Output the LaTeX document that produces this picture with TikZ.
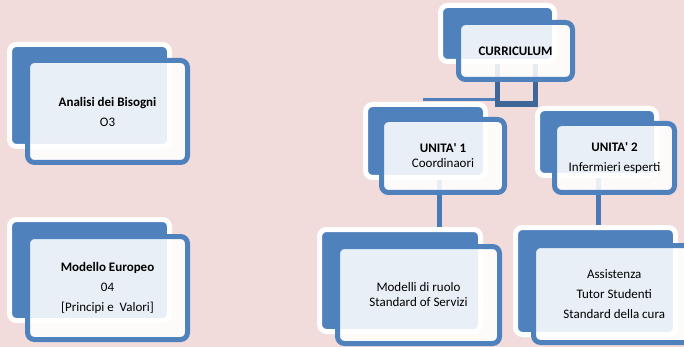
\documentclass[tikz,border=0pt]{standalone}
\usepackage{fontspec}
\setmainfont{Carlito}
\definecolor{bgpink}{HTML}{F2DCDB}
\definecolor{accblue}{HTML}{4F81BD}
\definecolor{linkblue}{HTML}{4A7AB6}
\definecolor{darkblue}{HTML}{3E6699}
\pgfdeclarelayer{bg}
\pgfsetlayers{bg,main}
\begin{document}
\begin{tikzpicture}[x=1pt,y=-1pt,
  backbox/.style={draw=white,line width=5pt,fill=accblue,rounded corners=7pt,
    inner sep=0pt,outer sep=0pt},
  frontbox/.style={draw=accblue,line width=5pt,fill=white,fill opacity=0.875,
    text opacity=1,rounded corners=7pt,inner sep=0pt,outer sep=0pt,align=center,
    font=\fontsize{13}{15}\selectfont},
  conn/.style={draw=linkblue,line width=5pt},
  darkconn/.style={draw=darkblue,line width=5.5pt,line join=miter},
  thinconn/.style={draw=accblue,line width=3pt}]
\useasboundingbox (0,0) rectangle (684,347);

% Analisi dei Bisogni
\node[backbox,minimum width=160pt,minimum height=102pt] (ab) at (89.5,95.5) {};
\node[frontbox,minimum width=160pt,minimum height=102pt] (af) at (107.5,111.5)
  {\textbf{Analisi dei Bisogni}\\[5pt]O3};

% Modello Europeo
\node[backbox,minimum width=160pt,minimum height=101pt] (mb) at (89.5,270) {};
\node[frontbox,minimum width=160pt,minimum height=103pt] (mf) at (107.5,288)
  {\textbf{Modello Europeo}\\[5pt]04\\[5pt][Principi e\ \ Valori]};

% CURRICULUM
\node[backbox,minimum width=114pt,minimum height=56pt] (cb) at (497.5,33.5) {};
\node[frontbox,minimum width=114pt,minimum height=57pt] (cf) at (515.5,51)
  {\textbf{CURRICULUM}};

% UNITA' 1
\node[backbox,minimum width=120pt,minimum height=73pt] (u1b) at (425.5,141) {};
\node[frontbox,minimum width=123pt,minimum height=73pt] (u1f) at (443,156)
  {\textbf{UNITA\textquotesingle\ 1}\\Coordinaori};

% UNITA' 2
\node[backbox,minimum width=119pt,minimum height=67pt] (u2b) at (597,142) {};
\node[frontbox,minimum width=120pt,minimum height=69pt] (u2f) at (614.5,158)
  {\textbf{UNITA\textquotesingle\ 2}\\[5pt]Infermieri esperti};

% Modelli di ruolo
\node[backbox,minimum width=161pt,minimum height=102pt] (m1b) at (400,280.5) {};
\node[frontbox,minimum width=162pt,minimum height=97pt] (m1f) at (418.5,295)
  {Modelli di ruolo\\Standard of Servizi};

% Assistenza
\node[backbox,minimum width=160pt,minimum height=107pt] (a2b) at (595.5,281) {};
\node[frontbox,minimum width=161.5pt,minimum height=97pt] (a2f) at (614.25,294)
  {Assistenza\\[5pt]Tutor Studenti\\[5pt]Standard della cura};

\begin{pgfonlayer}{bg}
  \fill[bgpink] (0,0) rectangle (684,347);
  \coordinate (jl) at (497.5,104);
  \coordinate (jr) at (535.5,104);
  \coordinate (tl) at (423,100);
  \coordinate (c1) at (439,141);
  \coordinate (c2) at (598,142);
  \draw[thinconn] (tl) -- (tl -| cb.center);
  \draw[darkconn] (cb.center) -- (jl) -- (jr) -- (jr |- cb.center);
  \draw[conn] (c1) -- (c1 |- m1b.north);
  \draw[conn] (c2) -- (c2 |- a2b.north);
\end{pgfonlayer}
\end{tikzpicture}
\end{document}
